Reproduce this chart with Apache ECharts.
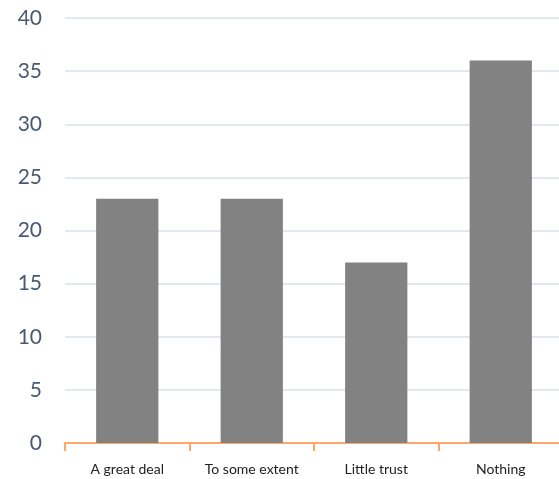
<!DOCTYPE html>
<html>
<head>
<meta charset="utf-8">
<script src="https://cdn.jsdelivr.net/npm/echarts@6/dist/echarts.min.js"></script>
<style>
  html, body { margin: 0; padding: 0; background: #fff; }
  #chart { width: 559px; height: 479px; }
</style>
</head>
<body>
<div id="chart"></div>
<script>
// Trust levels and their shares
const categories = ['A great deal', 'To some extent', 'Little trust', 'Nothing'];
const values = [23, 23, 17, 36];
const yTicks = [0, 5, 10, 15, 20, 25, 30, 35, 40];

const chart = echarts.init(document.getElementById('chart'), null, { renderer: 'canvas' });
chart.setOption({
  animation: false,
  backgroundColor: '#ffffff',
  // the plot runs a little past the right edge of the canvas
  grid: { left: 65, width: 498, top: 18, height: 425, containLabel: false, outerBoundsMode: 'none' },
  xAxis: {
    type: 'category',
    data: categories,
    axisLine: { show: true, lineStyle: { color: '#fda868', width: 2 } },
    axisTick: { show: true, length: 8, alignWithLabel: false, lineStyle: { color: '#fda868', width: 2 } },
    axisLabel: { color: '#222222', fontSize: 14, fontFamily: 'Lato', margin: 19 }
  },
  yAxis: {
    type: 'value',
    min: yTicks[0],
    max: yTicks[yTicks.length - 1],
    interval: 5,
    axisLine: { show: false },
    axisTick: { show: false },
    axisLabel: { color: '#4a5872', fontSize: 21, fontFamily: 'Lato', margin: 23 },
    splitLine: { lineStyle: { color: '#e3e7ee', width: 2 } }
  },
  series: [{
    type: 'bar',
    data: values,
    barWidth: '50%',
    itemStyle: { color: '#828282' }
  }]
});
</script>
</body>
</html>
